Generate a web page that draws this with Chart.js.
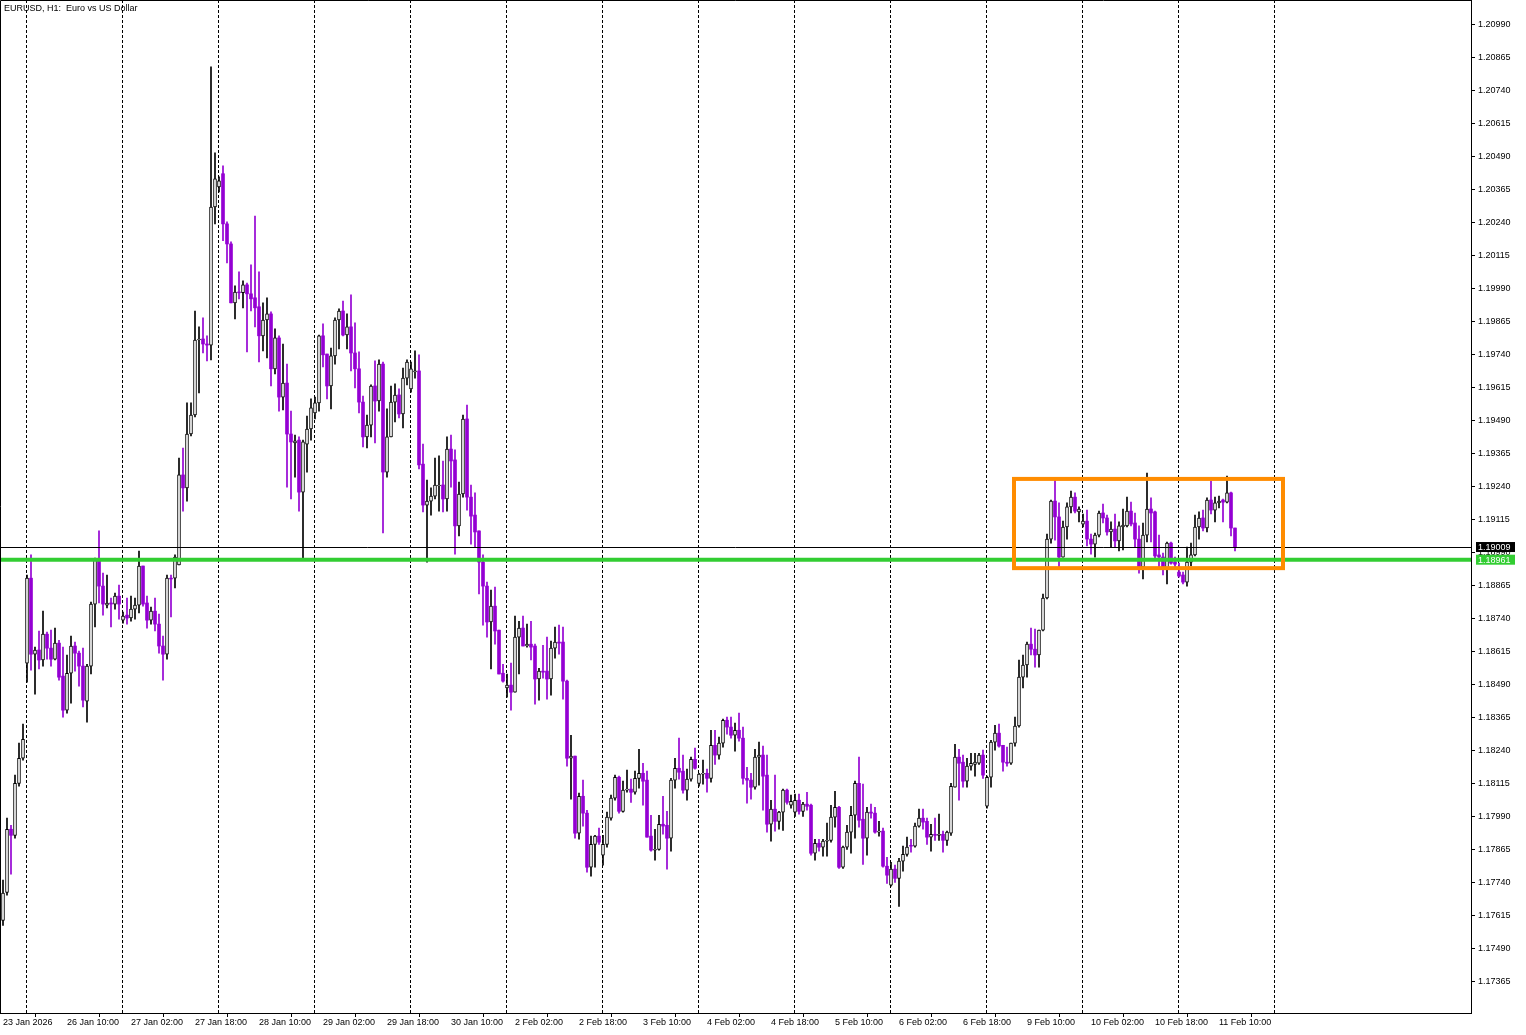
<!DOCTYPE html>
<html>
<head>
<meta charset="utf-8">
<script src="https://cdn.jsdelivr.net/npm/chart.js@4.4.1/dist/chart.umd.min.js"></script>
<style>
  html, body { margin: 0; padding: 0; background: #fff; }
  canvas { display: block; }
</style>
</head>
<body>
<canvas id="chart" width="1526" height="1035"></canvas>
<script>
// EURUSD H1 candles (oldest first)
const opens = [
1.17595,1.17701,1.17940,1.17917,1.18114,1.18209,1.18569,1.18891,1.18603,1.18619,
1.18581,1.18679,1.18626,1.18584,1.18645,1.18520,1.18391,1.18531,1.18634,1.18607,
1.18558,1.18425,1.18558,1.18793,1.18960,1.18861,1.18789,1.18797,1.18793,1.18823,
1.18732,1.18751,1.18740,1.18774,1.18789,1.18937,1.18797,1.18732,1.18766,1.18717,
1.18634,1.18603,1.18891,1.18891,1.18941,1.19282,1.19233,1.19437,1.19509,1.19793,
1.19797,1.19778,1.19774,1.20297,1.20373,1.20423,1.20233,1.20157,1.19934,1.19975,
1.19972,1.20002,1.19968,1.19953,1.19919,1.19809,1.19869,1.19892,1.19684,1.19801,
1.19577,1.19630,1.19437,1.19403,1.19414,1.19217,1.19399,1.19456,1.19517,1.19555,
1.19809,1.19740,1.19619,1.19733,1.19869,1.19903,1.19812,1.19843,1.19744,1.19684,
1.19558,1.19426,1.19471,1.19619,1.19562,1.19702,1.19293,1.19426,1.19558,1.19585,
1.19513,1.19649,1.19608,1.19672,1.19676,1.19323,1.19168,1.19183,1.19202,1.19240,
1.19244,1.19191,1.19380,1.19339,1.19089,1.19210,1.19494,1.19198,1.19130,1.19070,
1.18952,1.18861,1.18725,1.18785,1.18694,1.18531,1.18475,1.18486,1.18459,1.18668,
1.18702,1.18634,1.18641,1.18634,1.18509,1.18539,1.18539,1.18509,1.18626,1.18649,
1.18649,1.18501,1.18209,1.18217,1.17925,1.18065,1.18001,1.17796,1.17883,1.17914,
1.17842,1.17883,1.17982,1.18058,1.18137,1.18008,1.18088,1.18092,1.18080,1.18133,
1.18152,1.18126,1.17914,1.17861,1.17864,1.17959,1.17955,1.17906,1.18126,1.18171,
1.18160,1.18088,1.18130,1.18205,1.18114,1.18149,1.18152,1.18133,1.18258,1.18221,
1.18266,1.18353,1.18327,1.18296,1.18315,1.18285,1.18133,1.18126,1.18099,1.18213,
1.18221,1.18145,1.17959,1.18016,1.17970,1.18005,1.18088,1.18031,1.18005,1.18050,
1.18008,1.18035,1.18031,1.17849,1.17887,1.17872,1.17895,1.17898,1.17986,1.18023,
1.17796,1.17872,1.17929,1.17993,1.18114,1.17978,1.17906,1.18005,1.18001,1.17929,
1.17933,1.17800,1.17728,1.17789,1.17754,1.17819,1.17845,1.17879,1.17876,1.17952,
1.17982,1.17970,1.17910,1.17921,1.17917,1.17921,1.17898,1.17925,1.18099,1.18213,
1.18194,1.18122,1.18179,1.18186,1.18190,1.18221,1.18027,1.18137,1.18270,1.18304,
1.18258,1.18194,1.18190,1.18266,1.18331,1.18516,1.18562,1.18641,1.18622,1.18600,
1.18694,1.18816,1.19039,1.19183,1.19123,1.18971,1.19085,1.19161,1.19198,1.19142,
1.19096,1.19107,1.19039,1.19020,1.19054,1.19138,1.19119,1.19066,1.19077,1.19032,
1.19085,1.19089,1.19145,1.19100,1.19039,1.18933,1.19054,1.19153,1.19142,1.18979,
1.18971,1.18926,1.19024,1.18952,1.18914,1.18903,1.18876,1.18952,1.18979,1.19085,
1.19119,1.19081,1.19187,1.19149,1.19176,1.19187,1.19179,1.19214,1.19081
];
const closes = [
1.17698,1.17940,1.17917,1.18114,1.18209,1.18281,1.18891,1.18603,1.18619,1.18581,
1.18679,1.18626,1.18584,1.18645,1.18516,1.18391,1.18531,1.18634,1.18607,1.18558,
1.18429,1.18558,1.18793,1.18960,1.18861,1.18793,1.18797,1.18793,1.18823,1.18793,
1.18747,1.18740,1.18774,1.18789,1.18937,1.18793,1.18732,1.18766,1.18717,1.18634,
1.18603,1.18891,1.18888,1.18971,1.19282,1.19233,1.19437,1.19509,1.19793,1.19797,
1.19778,1.19774,1.20297,1.20404,1.20396,1.20233,1.20157,1.19934,1.19975,1.19972,
1.20002,1.19968,1.19949,1.19915,1.19809,1.19869,1.19892,1.19684,1.19801,1.19577,
1.19630,1.19437,1.19407,1.19411,1.19217,1.19407,1.19456,1.19536,1.19555,1.19809,
1.19737,1.19619,1.19733,1.19869,1.19903,1.19812,1.19843,1.19744,1.19684,1.19558,
1.19426,1.19471,1.19619,1.19562,1.19702,1.19293,1.19426,1.19558,1.19585,1.19513,
1.19649,1.19710,1.19684,1.19676,1.19320,1.19168,1.19183,1.19202,1.19244,1.19244,
1.19191,1.19380,1.19335,1.19089,1.19210,1.19494,1.19198,1.19126,1.19066,1.18952,
1.18861,1.18725,1.18785,1.18691,1.18528,1.18501,1.18486,1.18459,1.18668,1.18702,
1.18634,1.18641,1.18630,1.18509,1.18539,1.18535,1.18509,1.18626,1.18649,1.18645,
1.18501,1.18209,1.18217,1.17925,1.18065,1.18001,1.17796,1.17883,1.17914,1.17891,
1.17883,1.17986,1.18058,1.18137,1.18008,1.18088,1.18092,1.18080,1.18133,1.18152,
1.18122,1.17910,1.17861,1.17864,1.17959,1.17952,1.17906,1.18126,1.18171,1.18156,
1.18088,1.18130,1.18205,1.18171,1.18149,1.18152,1.18133,1.18258,1.18221,1.18266,
1.18353,1.18327,1.18296,1.18315,1.18285,1.18133,1.18126,1.18099,1.18213,1.18221,
1.18141,1.17959,1.18016,1.17970,1.18005,1.18088,1.18042,1.18046,1.18050,1.18008,
1.18035,1.18027,1.17849,1.17887,1.17872,1.17895,1.17898,1.17986,1.18023,1.17796,
1.17872,1.17929,1.17993,1.18114,1.17974,1.17906,1.18005,1.18001,1.17929,1.17933,
1.17800,1.17766,1.17789,1.17754,1.17819,1.17845,1.17872,1.17876,1.17952,1.17982,
1.17967,1.17910,1.17921,1.17917,1.17921,1.17898,1.17929,1.18103,1.18213,1.18190,
1.18122,1.18179,1.18190,1.18194,1.18221,1.18145,1.18137,1.18270,1.18304,1.18255,
1.18194,1.18190,1.18266,1.18331,1.18516,1.18562,1.18641,1.18622,1.18600,1.18694,
1.18816,1.19039,1.19183,1.19123,1.18971,1.19085,1.19161,1.19198,1.19145,1.19153,
1.19107,1.19039,1.19020,1.19054,1.19138,1.19119,1.19066,1.19077,1.19032,1.19089,
1.19092,1.19145,1.19096,1.19039,1.18929,1.19054,1.19153,1.19138,1.18975,1.18971,
1.18926,1.19024,1.18948,1.18944,1.18899,1.18876,1.18952,1.18979,1.19085,1.19119,
1.19081,1.19187,1.19149,1.19176,1.19183,1.19179,1.19214,1.19081,1.19009
];
const highs = [
1.17747,1.17982,1.17955,1.18145,1.18266,1.18338,1.18903,1.18979,1.18630,1.18691,
1.18766,1.18687,1.18694,1.18702,1.18656,1.18630,1.18600,1.18672,1.18649,1.18615,
1.18626,1.18565,1.18800,1.18967,1.19070,1.18910,1.18903,1.18816,1.18835,1.18865,
1.18763,1.18816,1.18823,1.18816,1.18994,1.18937,1.18823,1.18782,1.18816,1.18755,
1.18672,1.18903,1.18903,1.18979,1.19346,1.19384,1.19555,1.19555,1.19903,1.19843,
1.19877,1.19809,1.20828,1.20502,1.20411,1.20453,1.20241,1.20165,1.19998,1.20051,
1.20017,1.20009,1.20078,1.20263,1.20051,1.19934,1.19953,1.19900,1.19835,1.19809,
1.19778,1.19702,1.19524,1.19433,1.19426,1.19414,1.19505,1.19570,1.19577,1.19812,
1.19854,1.19740,1.19763,1.19877,1.19911,1.19941,1.19892,1.19964,1.19858,1.19748,
1.19581,1.19509,1.19623,1.19714,1.19718,1.19710,1.19532,1.19619,1.19627,1.19608,
1.19687,1.19718,1.19710,1.19752,1.19737,1.19399,1.19263,1.19233,1.19346,1.19354,
1.19335,1.19426,1.19433,1.19377,1.19255,1.19509,1.19547,1.19244,1.19214,1.19070,
1.18979,1.18876,1.18846,1.18857,1.18694,1.18565,1.18528,1.18569,1.18747,1.18728,
1.18747,1.18717,1.18728,1.18641,1.18550,1.18637,1.18668,1.18653,1.18706,1.18713,
1.18706,1.18505,1.18296,1.18217,1.18077,1.18126,1.18012,1.17914,1.17917,1.17944,
1.17917,1.18005,1.18069,1.18145,1.18141,1.18122,1.18164,1.18130,1.18160,1.18243,
1.18190,1.18160,1.17993,1.17940,1.17993,1.18065,1.18008,1.18133,1.18209,1.18285,
1.18221,1.18168,1.18213,1.18247,1.18152,1.18202,1.18168,1.18315,1.18315,1.18289,
1.18357,1.18365,1.18365,1.18342,1.18380,1.18327,1.18175,1.18152,1.18243,1.18270,
1.18255,1.18221,1.18050,1.18145,1.18008,1.18092,1.18092,1.18069,1.18073,1.18073,
1.18042,1.18080,1.18035,1.17902,1.17902,1.17902,1.17963,1.18031,1.18084,1.18027,
1.17876,1.17955,1.18027,1.18122,1.18213,1.18111,1.18023,1.18035,1.18023,1.17970,
1.17944,1.17834,1.17815,1.17804,1.17830,1.17876,1.17910,1.17902,1.17963,1.18016,
1.18016,1.17982,1.17959,1.17982,1.17997,1.17933,1.17933,1.18114,1.18262,1.18243,
1.18221,1.18209,1.18228,1.18228,1.18228,1.18240,1.18141,1.18277,1.18334,1.18338,
1.18258,1.18251,1.18266,1.18365,1.18581,1.18600,1.18649,1.18702,1.18698,1.18694,
1.18831,1.19058,1.19187,1.19270,1.19176,1.19107,1.19176,1.19221,1.19214,1.19161,
1.19134,1.19149,1.19058,1.19062,1.19145,1.19172,1.19130,1.19104,1.19134,1.19104,
1.19153,1.19198,1.19179,1.19138,1.19089,1.19100,1.19289,1.19195,1.19145,1.19054,
1.18986,1.19028,1.19028,1.18971,1.18948,1.18914,1.19009,1.19024,1.19130,1.19142,
1.19149,1.19195,1.19259,1.19198,1.19202,1.19191,1.19278,1.19217,1.19081
];
const lows = [
1.17576,1.17690,1.17770,1.17906,1.18103,1.18202,1.18497,1.18543,1.18452,1.18547,
1.18558,1.18584,1.18558,1.18581,1.18505,1.18365,1.18380,1.18418,1.18539,1.18482,
1.18403,1.18346,1.18528,1.18706,1.18797,1.18751,1.18778,1.18706,1.18774,1.18736,
1.18721,1.18717,1.18728,1.18736,1.18759,1.18785,1.18702,1.18717,1.18691,1.18607,
1.18505,1.18584,1.18744,1.18854,1.18941,1.19145,1.19183,1.19430,1.19502,1.19593,
1.19744,1.19714,1.19718,1.20233,1.20354,1.20169,1.20085,1.19934,1.19873,1.19949,
1.19915,1.19748,1.19903,1.19843,1.19710,1.19752,1.19725,1.19619,1.19665,1.19524,
1.19528,1.19236,1.19191,1.19274,1.19145,1.18967,1.19293,1.19414,1.19494,1.19524,
1.19691,1.19570,1.19532,1.19702,1.19759,1.19809,1.19759,1.19676,1.19612,1.19517,
1.19388,1.19384,1.19426,1.19403,1.19524,1.19062,1.19274,1.19426,1.19483,1.19498,
1.19460,1.19623,1.19596,1.19649,1.19305,1.19142,1.18952,1.19130,1.19191,1.19145,
1.19142,1.19145,1.19236,1.18982,1.19051,1.19198,1.19149,1.19020,1.19009,1.18831,
1.18713,1.18668,1.18547,1.18641,1.18528,1.18497,1.18440,1.18391,1.18459,1.18528,
1.18634,1.18630,1.18581,1.18414,1.18429,1.18512,1.18433,1.18448,1.18588,1.18603,
1.18433,1.18179,1.18054,1.17906,1.17902,1.17952,1.17777,1.17762,1.17796,1.17883,
1.17804,1.17872,1.17974,1.18050,1.18001,1.18005,1.18080,1.18042,1.18073,1.18096,
1.18031,1.17910,1.17857,1.17823,1.17861,1.17921,1.17789,1.17857,1.18096,1.18130,
1.18077,1.18050,1.18122,1.18168,1.18103,1.18111,1.18080,1.18118,1.18186,1.18205,
1.18251,1.18300,1.18285,1.18236,1.18274,1.18111,1.18039,1.18054,1.18092,1.18107,
1.18012,1.17929,1.17895,1.17933,1.17940,1.17936,1.18035,1.18020,1.17989,1.17997,
1.17989,1.18012,1.17842,1.17823,1.17857,1.17838,1.17838,1.17891,1.17948,1.17792,
1.17792,1.17864,1.17849,1.17906,1.17948,1.17807,1.17842,1.17982,1.17925,1.17914,
1.17796,1.17735,1.17724,1.17739,1.17648,1.17781,1.17838,1.17853,1.17872,1.17948,
1.17940,1.17883,1.17857,1.17898,1.17898,1.17853,1.17879,1.17917,1.18099,1.18050,
1.18099,1.18099,1.18164,1.18141,1.18186,1.18133,1.18020,1.18099,1.18240,1.18251,
1.18160,1.18179,1.18186,1.18255,1.18327,1.18475,1.18516,1.18600,1.18554,1.18554,
1.18691,1.18812,1.19024,1.19035,1.18933,1.18971,1.19039,1.19138,1.19138,1.19104,
1.19085,1.19013,1.18982,1.18971,1.19047,1.19100,1.19054,1.19009,1.19009,1.18994,
1.18998,1.19085,1.19089,1.19009,1.18910,1.18888,1.19028,1.19028,1.18963,1.18933,
1.18903,1.18869,1.18944,1.18926,1.18895,1.18869,1.18861,1.18937,1.18975,1.19039,
1.19070,1.19066,1.19134,1.19104,1.19157,1.19104,1.19176,1.19051,1.18994
];

// price axis labels
const priceTicks = [
1.17365,1.17490,1.17615,1.17740,1.17865,1.17990,1.18115,1.18240,1.18365,1.18490,
1.18615,1.18740,1.18865,1.18990,1.19115,1.19240,1.19365,1.19490,1.19615,1.19740,
1.19865,1.19990,1.20115,1.20240,1.20365,1.20490,1.20615,1.20740,1.20865,1.20990
];

// time axis labels (every 16 bars)
const timeLabels = [
'23 Jan 2026','26 Jan 10:00','27 Jan 02:00','27 Jan 18:00','28 Jan 10:00',
'29 Jan 02:00','29 Jan 18:00','30 Jan 10:00','2 Feb 02:00','2 Feb 18:00',
'3 Feb 10:00','4 Feb 02:00','4 Feb 18:00','5 Feb 10:00','6 Feb 02:00',
'6 Feb 18:00','9 Feb 10:00','10 Feb 02:00','10 Feb 18:00','11 Feb 10:00'
];
const timeLabelBars = [0,16,32,48,64,80,96,112,128,144,160,176,192,208,224,240,256,272,288,304];

// period separators (bar positions)
const separatorBars = [5.75,29.75,53.75,77.75,101.75,125.75,149.75,173.75,197.75,221.75,245.75,269.75,293.75,317.75];

// lines and zone drawn on the chart
const bidPrice = 1.19009;
const supportPrice = 1.18961;
const rangeBox = { fromBar: 252.75, toBar: 320, top: 1.19267, bottom: 1.18929 };

const BULL = '#000000';
const BEAR = '#9400D3';
const isBull = i => closes[i] >= opens[i];

const bodies = opens.map((o, i) => ({ x: i, y: [o, closes[i]] }));
const wicks = opens.map((o, i) => ({ x: i, y: [lows[i], highs[i]] }));

const overlay = {
    id: 'overlay',
    beforeDatasetsDraw(chart) {
        const { ctx, chartArea: a, scales: { x } } = chart;
        ctx.save();
        ctx.strokeStyle = '#000';
        ctx.lineWidth = 1;
        ctx.setLineDash([3, 2]);
        separatorBars.forEach(b => {
            const px = Math.round(x.getPixelForValue(b)) + 0.5;
            ctx.beginPath();
            ctx.moveTo(px, a.top);
            ctx.lineTo(px, a.bottom);
            ctx.stroke();
        });
        ctx.restore();
    },
    afterDatasetsDraw(chart) {
        const { ctx, chartArea: a, scales: { x, y } } = chart;
        ctx.save();
        // bid line
        const bidY = Math.round(y.getPixelForValue(bidPrice)) + 0.5;
        ctx.strokeStyle = '#000';
        ctx.lineWidth = 1;
        ctx.beginPath(); ctx.moveTo(a.left, bidY); ctx.lineTo(a.right, bidY); ctx.stroke();
        // support line
        const supY = y.getPixelForValue(supportPrice);
        ctx.strokeStyle = '#32CD32';
        ctx.lineWidth = 4;
        ctx.beginPath(); ctx.moveTo(a.left, supY); ctx.lineTo(a.right, supY); ctx.stroke();
        // range box
        const x1 = x.getPixelForValue(rangeBox.fromBar), x2 = x.getPixelForValue(rangeBox.toBar);
        const y1 = y.getPixelForValue(rangeBox.top), y2 = y.getPixelForValue(rangeBox.bottom);
        ctx.strokeStyle = '#FF8C00';
        ctx.lineWidth = 4;
        ctx.strokeRect(x1, y1, x2 - x1, y2 - y1);
        // frame
        ctx.strokeStyle = '#000';
        ctx.lineWidth = 1;
        ctx.beginPath();
        ctx.moveTo(0.5, a.bottom); ctx.lineTo(0.5, 0.5); ctx.lineTo(a.right, 0.5);
        ctx.stroke();
        // title
        ctx.fillStyle = '#000';
        ctx.font = '9px "Liberation Sans", Arial, sans-serif';
        ctx.textBaseline = 'middle';
        ctx.textAlign = 'left';
        ctx.fillText('EURUSD, H1:  Euro vs US Dollar', 4, 9);
        // price tags on the axis
        [[bidPrice, '#000000'], [supportPrice, '#32CD32']].forEach(([p, col]) => {
            const py = y.getPixelForValue(p);
            ctx.fillStyle = col;
            ctx.fillRect(a.right + 5, py - 5, 39, 10);
            ctx.fillStyle = '#fff';
            ctx.fillText(p.toFixed(5), a.right + 7, py + 0.5);
        });
        ctx.restore();
    }
};

const config = {
    type: 'bar',
    data: {
        datasets: [{
            data: bodies,
            barThickness: 3,
            grouped: false,
            backgroundColor: ctx => isBull(ctx.dataIndex) ? '#ffffff' : BEAR,
            borderColor: ctx => isBull(ctx.dataIndex) ? BULL : BEAR,
            borderWidth: ctx => isBull(ctx.dataIndex) ? 1 : 0,
            borderSkipped: false
        }, {
            data: wicks,
            barThickness: 1,
            grouped: false,
            backgroundColor: ctx => isBull(ctx.dataIndex) ? BULL : BEAR,
            borderWidth: 0
        }]
    },
    options: {
        responsive: false,
        animation: false,
        devicePixelRatio: 1,
        layout: { padding: 0 },
        plugins: { legend: { display: false }, tooltip: { enabled: false } },
        scales: {
            x: {
                type: 'linear',
                min: -0.75,
                max: 367,
                offset: false,
                afterBuildTicks: s => { s.ticks = timeLabelBars.map(v => ({ value: v })); },
                afterFit: s => { s.height = 22; s.paddingLeft = 0; s.paddingRight = 0; },
                grid: { display: true, drawOnChartArea: false, tickLength: 4, color: '#000' },
                border: { display: true, color: '#000' },
                ticks: {
                    autoSkip: false, maxRotation: 0, align: 'start', padding: 0,
                    color: '#000', font: { family: 'Liberation Sans', size: 9 },
                    callback: v => timeLabels[timeLabelBars.indexOf(v)]
                }
            },
            y: {
                position: 'right',
                min: 1.17244,
                max: 1.21081,
                afterBuildTicks: s => { s.ticks = priceTicks.map(v => ({ value: v })); },
                afterFit: s => { s.width = 55; s.paddingTop = 0; s.paddingBottom = 0; },
                grid: { display: true, drawOnChartArea: false, tickLength: 4, color: '#000' },
                border: { display: true, color: '#000' },
                ticks: {
                    padding: 3, color: '#000', font: { family: 'Liberation Sans', size: 9 },
                    callback: v => v.toFixed(5)
                }
            }
        }
    },
    plugins: [overlay]
};

var priceChart = new Chart(document.getElementById('chart'), config);
</script>
</body>
</html>
